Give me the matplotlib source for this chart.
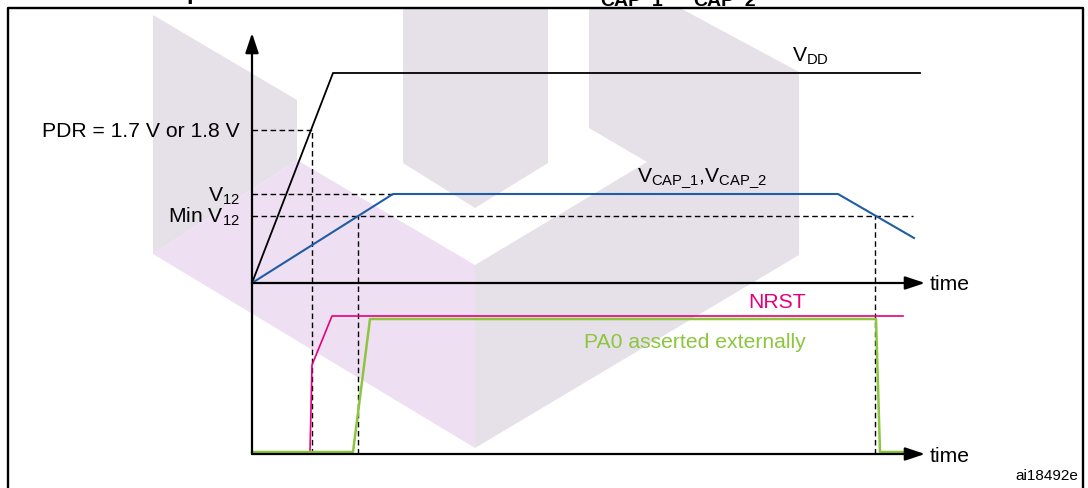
"""Startup timing diagram: VDD, VCAP_1/VCAP_2, NRST and PA0."""

import matplotlib
matplotlib.use("Agg")
import matplotlib.pyplot as plt
from matplotlib.patches import Polygon
from matplotlib.transforms import Affine2D

W, H = 1088, 488

# time and level in arbitrary diagram units (level 0 = upper time axis)
vdd_t = [0.0, 8.1, 66.8]
vdd_v = [0.0, 21.0, 21.0]

vcap_t = [0.0, 14.1, 58.6, 66.2]
vcap_v = [0.0, 8.9, 8.9, 4.5]

pdr_level = 15.3
v12_level = 8.9
min_v12_level = 6.7

t_pdr = 6.0
t_min_rise = 10.6
t_min_fall = 62.3
t_v12 = 14.1
t_min_end = 66.1

logic_base = -17.1
axis_end = 67.3
y_axis_top = 25.0

nrst_t = [0.0, 5.8, 6.0, 8.0, 65.1]
nrst_v = [-16.9, -16.9, -8.2, -3.3, -3.3]

pa0_t = [0.0, 10.1, 11.8, 62.4, 62.8, 65.1]
pa0_v = [-16.9, -16.9, -3.6, -3.6, -16.9, -16.9]

# faint logo watermark behind the diagram (pixel outline)
logo_gray = [
    [(153, 15), (297, 100), (297, 160), (153, 254)],
    [(403, 8), (548, 8), (548, 163), (475, 208), (403, 163)],
    [(589, 8), (680, 8), (799, 72), (799, 255), (475, 448), (475, 265),
     (647, 162), (589, 128)],
]
logo_pink = [(153, 254), (297, 160), (475, 265), (475, 448)]

BLUE = "#1f5ca6"
MAGENTA = "#e6007e"
GREEN = "#8cc63f"

plt.rcParams["font.family"] = ["Liberation Sans", "DejaVu Sans"]
plt.rcParams["mathtext.fontset"] = "custom"
plt.rcParams["mathtext.rm"] = "Liberation Sans"
plt.rcParams["mathtext.it"] = "Liberation Sans:italic"
plt.rcParams["mathtext.bf"] = "Liberation Sans:bold"

fig = plt.figure(figsize=(W / 100, H / 100), dpi=100)
ax = fig.add_axes([0, 0, 1, 1])
ax.set_xlim(-25.2, 83.6)
ax.set_ylim(-20.5, 28.3)
ax.set_axis_off()

px = Affine2D().scale(1 / W, -1 / H).translate(0, 1) + fig.transFigure

for pts in logo_gray:
    ax.add_patch(Polygon(pts, closed=True, transform=px, facecolor="#e6e0e9",
                         edgecolor="none", zorder=0, clip_on=False))
ax.add_patch(Polygon(logo_pink, closed=True, transform=px, facecolor="#eee0f2",
                     edgecolor="none", zorder=0, clip_on=False))

# frame (bottom edge is cut off in the original)
ax.plot([7.5, 7.5, 1083, 1083], [H + 5, 7.5, 7.5, H + 5], transform=px,
        color="k", lw=1.7, clip_on=False, zorder=5)

dash = (0, (4, 2.5))
ax.hlines([pdr_level, v12_level, min_v12_level], 0,
          [t_pdr, t_v12, t_min_end], colors="k", lw=1.0, linestyles=dash, zorder=2)
ax.vlines([t_pdr, t_min_rise, t_min_fall], logic_base,
          [pdr_level, min_v12_level, min_v12_level], colors="k", lw=1.0,
          linestyles=dash, zorder=2)

ax.plot(vdd_t, vdd_v, color="k", lw=1.3, zorder=3)
ax.plot(vcap_t, vcap_v, color=BLUE, lw=1.5, zorder=3)
ax.plot(nrst_t, nrst_v, color=MAGENTA, lw=1.2, zorder=3)
ax.plot(pa0_t, pa0_v, color=GREEN, lw=1.8, zorder=3.5)

arrow = dict(arrowstyle="-|>,head_length=0.6,head_width=0.2", mutation_scale=20,
             lw=1.6, color="k", shrinkA=0, shrinkB=0)
ax.annotate("", xy=(0, y_axis_top), xytext=(0, logic_base), arrowprops=arrow,
            zorder=4)
ax.annotate("", xy=(axis_end, 0), xytext=(0, 0), arrowprops=arrow, zorder=4)
ax.annotate("", xy=(axis_end, logic_base), xytext=(0, logic_base),
            arrowprops=arrow, zorder=4)

fs = 15.2
ax.text(-1.2, 14.6, "PDR = 1.7 V or 1.8 V", ha="right", va="baseline", fontsize=fs)
ax.text(-1.2, 8.1, r"$\mathrm{V_{12}}$", ha="right", va="baseline", fontsize=fs)
ax.text(-1.2, 6.0, r"Min $\mathrm{V_{12}}$", ha="right", va="baseline", fontsize=fs)
ax.text(54.0, 22.1, r"$\mathrm{V_{DD}}$", ha="left", va="baseline", fontsize=fs)
ax.text(38.5, 10.1, r"$\mathrm{V_{CAP\_1}{,}V_{CAP\_2}}$", ha="left",
        va="baseline", fontsize=fs)
ax.text(55.4, -2.5, "NRST", ha="right", va="baseline", fontsize=fs, color=MAGENTA)
ax.text(55.4, -6.5, "PA0 asserted externally", ha="right", va="baseline",
        fontsize=fs, color=GREEN)
ax.text(67.8, -0.7, "time", ha="left", va="baseline", fontsize=fs)
ax.text(67.8, -17.95, "time", ha="left", va="baseline", fontsize=fs)
ax.text(82.6, -19.7, "ai18492e", ha="right", va="baseline", fontsize=11)

# bottom of the caption above the frame, cut by the page edge
fig.text(186, -1, "p", transform=px, fontsize=17, fontweight="bold", va="baseline")
fig.text(600, 5, "CAP_1", transform=px, fontsize=14, fontweight="bold",
         va="baseline")
fig.text(693, 5, "CAP_2", transform=px, fontsize=14, fontweight="bold",
         va="baseline")

fig.savefig("out.png", dpi=100)
